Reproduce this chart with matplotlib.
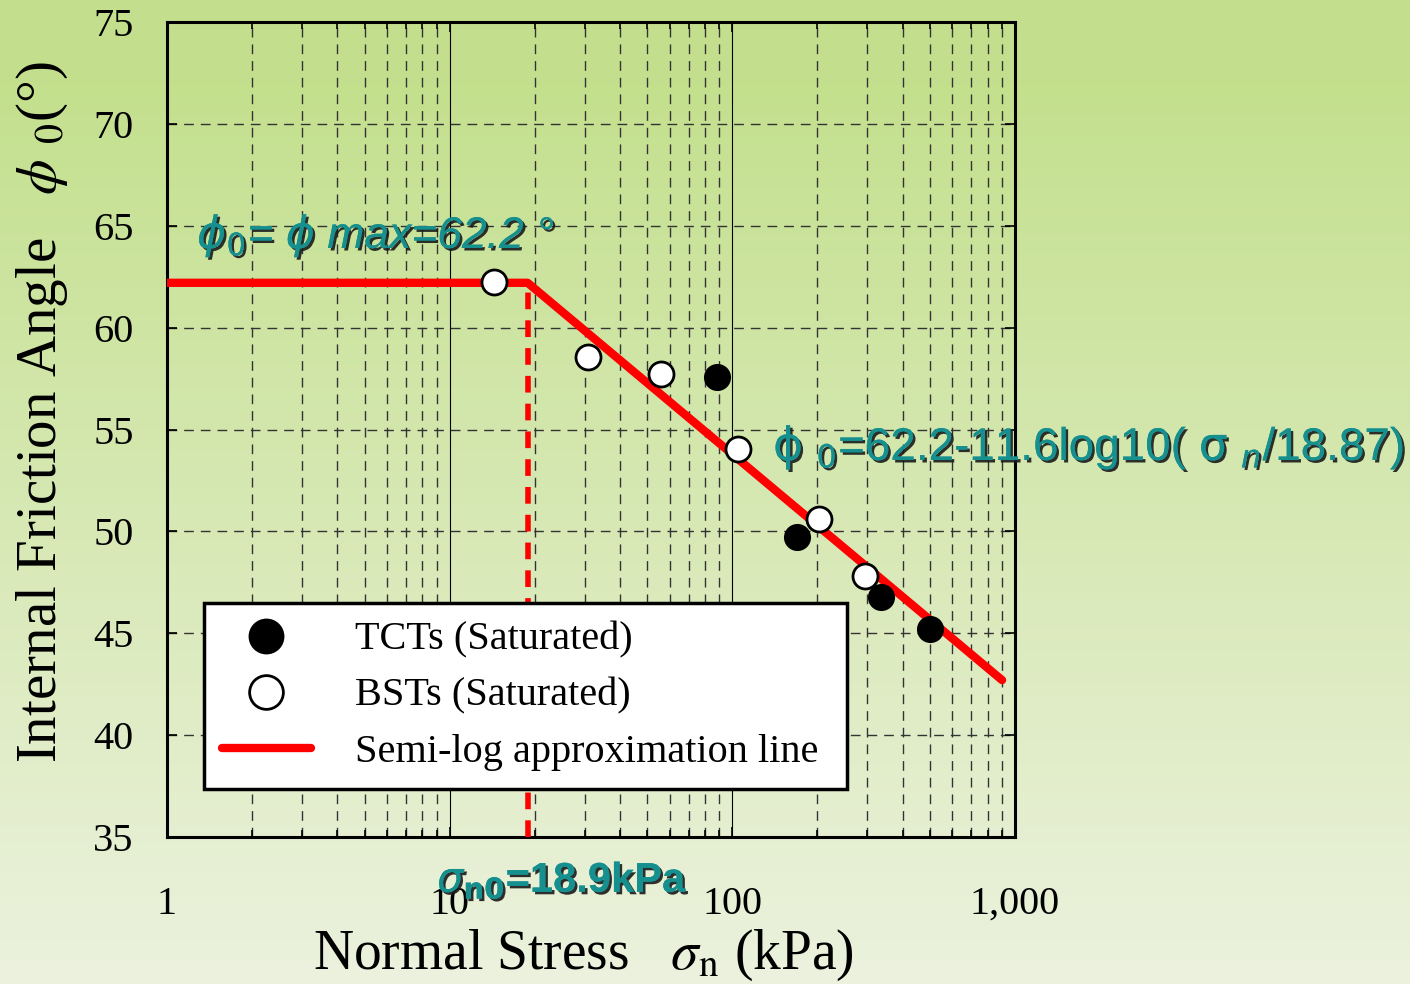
import numpy as np
import matplotlib
matplotlib.use("Agg")
import matplotlib.pyplot as plt
import matplotlib.patheffects as pe
from matplotlib.ticker import FixedLocator, FuncFormatter, NullFormatter

# data
tct_stress = [88.3, 169.3, 335.7, 500.0]
tct_angle = [57.6, 49.7, 46.8, 45.2]
bst_stress = [14.35, 30.8, 55.9, 104.7, 202.7, 294.5]
bst_angle = [62.25, 58.55, 57.7, 54.05, 50.6, 47.8]
line_stress = [1.0, 18.87, 900.0]
line_angle = [62.2, 62.2, 42.7]
sigma_n0 = 18.87
phi_max = 62.2

plt.rcParams["mathtext.fontset"] = "dejavusans"
serif = "Liberation Serif"
sans = "Liberation Sans"
teal = "#16908f"

fig = plt.figure(figsize=(14.1, 9.84), dpi=100)

# green gradient background
bg = fig.add_axes([0, 0, 1, 1], zorder=-10)
t = np.linspace(0, 1, 256)[:, None]
top = np.array([0.765, 0.878, 0.553])
bot = np.array([0.925, 0.948, 0.870])
grad = top + (bot - top) * np.clip((t - 0.08) / 0.92, 0, 1)[..., None]
grad = np.repeat(grad, 2, axis=1)
bg.imshow(grad, aspect="auto", extent=[0, 1, 0, 1], origin="upper")
bg.axis("off")

ax = fig.add_axes([167 / 1410, 1 - 837 / 984, 848 / 1410, 815 / 984])
ax.patch.set_alpha(0)
ax.set_xscale("log")
ax.set_xlim(1, 1000)
ax.set_ylim(35, 75)

ax.xaxis.set_major_locator(FixedLocator([1, 10, 100, 1000]))
ax.xaxis.set_minor_locator(FixedLocator([m * 10 ** d for d in range(3) for m in range(2, 10)]))
ax.xaxis.set_major_formatter(FuncFormatter(lambda v, p: f"{v:,.0f}"))
ax.xaxis.set_minor_formatter(NullFormatter())
ax.set_yticks(np.arange(35, 76, 5))

ax.grid(which="major", axis="x", color="black", lw=0.8, ls="-")
ax.grid(which="minor", axis="x", color="#333333", lw=1.0, ls=(0, (7, 5)))
ax.grid(which="major", axis="y", color="#333333", lw=1.0, ls=(0, (7, 5)))

ax.tick_params(which="both", direction="in", top=True, right=True, width=1.2)
ax.tick_params(which="major", length=7)
ax.tick_params(which="minor", length=5)
ax.tick_params(axis="y", labelsize=29, pad=24)
ax.tick_params(axis="x", labelsize=29, pad=35)
for lab in ax.get_xticklabels() + ax.get_yticklabels():
    lab.set_family(serif)
for sp in ax.spines.values():
    sp.set_linewidth(2.2)

ax.plot(line_stress, line_angle, color="red", lw=6, solid_capstyle="round",
        label="Semi-log approximation line", zorder=3)
ax.plot([sigma_n0, sigma_n0], [35, phi_max], color="red", lw=4, ls=(0, (3, 2)), zorder=3)
ax.plot(tct_stress, tct_angle, "o", ms=18, mfc="black", mec="black", mew=1.5,
        label="TCTs (Saturated)", zorder=4)
ax.plot(bst_stress, bst_angle, "o", ms=18, mfc="white", mec="black", mew=2,
        label="BSTs (Saturated)", zorder=4)

h, l = ax.get_legend_handles_labels()
leg = ax.legend([h[1], h[2], h[0]], [l[1], l[2], l[0]], loc="lower left",
                bbox_to_anchor=(0.0436, 0.0589, 0.7583, 0.232), mode="expand",
                prop={"family": serif, "size": 29},
                markerscale=1.35, handlelength=2.2, handletextpad=1.1, labelspacing=0.47,
                borderpad=0.45, borderaxespad=0, fancybox=False, framealpha=1,
                edgecolor="black", facecolor="white")
leg.get_frame().set_linewidth(2.5)
leg.set_zorder(5)

ax.set_xlabel(r"Normal Stress   $\sigma_{\rm n}$ (kPa)", family=serif, size=40,
              math_fontfamily="stix", ha="left", va="baseline")
ax.xaxis.set_label_coords((313 - 167) / 848, (837 - 969) / 815)
ax.set_ylabel(r"Internal Friction Angle   $\phi$ $_{0}$(°)", family=serif, size=41,
              math_fontfamily="stix", ha="center", va="center")
ax.yaxis.set_label_coords((42 - 167) / 848, (837 - 412) / 815)

shadow = [pe.withSimplePatchShadow(offset=(1.8, -1.8), shadow_rgbFace="#1a1a1a", alpha=0.9),
          pe.Normal()]
fig.text(197 / 1410, 1 - 248 / 984, r"$\phi_{\mathit{0}}$= $\phi$ max=62.2 °", family=sans,
         style="italic", size=32, color=teal, va="baseline", path_effects=shadow)
fig.text(773 / 1410, 1 - 460 / 984,
         r"$\mathrm{\phi}$ $_{0}$=62.2-11.6log10( $\mathrm{\sigma}$ $_{n}$/18.87)",
         family=sans, size=33, color=teal, va="baseline", path_effects=shadow)
fig.text(437 / 1410, 1 - 892 / 984, r"$\sigma_{\mathbf{n0}}$=18.9kPa", family=sans,
         weight="bold", size=30, color=teal, va="baseline", path_effects=shadow)

fig.savefig("out.png", dpi=100)
